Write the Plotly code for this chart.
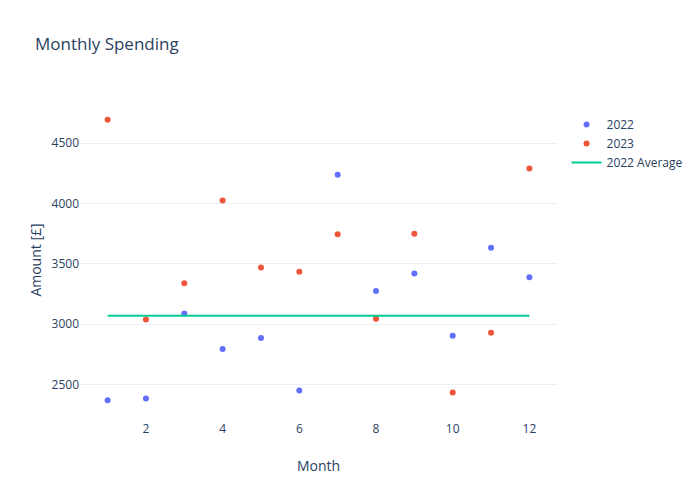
import plotly.graph_objects as go

months = list(range(1, 13))
spend_2022 = [2370, 2385, 3090, 2795, 2885, 2450, 4240, 3275, 3420, 2905, 3635, 3390]
spend_2023 = [4695, 3040, 3340, 4025, 3470, 3435, 3745, 3045, 3750, 2435, 2930, 4290]

avg_2022 = sum(spend_2022) / len(spend_2022)

fig = go.Figure()
fig.add_trace(go.Scatter(x=months, y=spend_2022, mode="markers", name="2022"))
fig.add_trace(go.Scatter(x=months, y=spend_2023, mode="markers", name="2023"))
fig.add_trace(go.Scatter(x=[months[0], months[-1]], y=[avg_2022, avg_2022],
                         mode="lines", name="2022 Average"))
fig.update_layout(
    template="plotly_white",
    title="Monthly Spending",
    width=700, height=500,
    legend=dict(y=0.969),
)
fig.update_xaxes(showgrid=False, title=dict(text="Month", standoff=25))
fig.update_yaxes(title=dict(text="Amount [£]", standoff=6))
fig.write_html("out.html", post_script="document.body.style.margin='0';",
               config={"displayModeBar": False})
